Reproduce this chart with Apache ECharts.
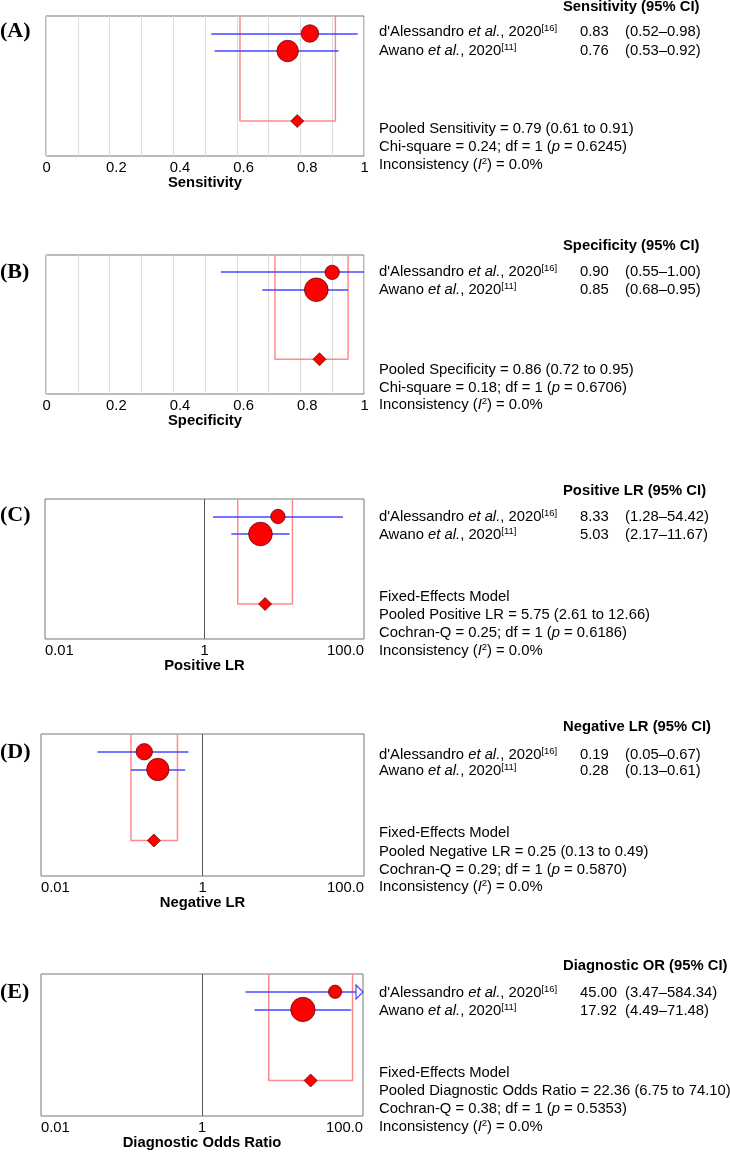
<!DOCTYPE html>
<html>
<head>
<meta charset="utf-8">
<script src="https://cdn.jsdelivr.net/npm/echarts@6/dist/echarts.min.js"></script>
<style>
  html, body { margin: 0; background: #fff; }
  #main { width: 730px; height: 1152px; }
</style>
</head>
<body>
<div id="main"></div>
<script>
// ---- data ----
const panelLetters = ['(A)', '(B)', '(C)', '(D)', '(E)'];
const axisNames = ['Sensitivity', 'Specificity', 'Positive LR', 'Negative LR', 'Diagnostic Odds Ratio'];
const headings = ['Sensitivity', 'Specificity', 'Positive LR', 'Negative LR', 'Diagnostic OR'];
const pooledNames = ['Sensitivity', 'Specificity', 'Positive LR', 'Negative LR', 'Diagnostic Odds Ratio'];
const isLog = [false, false, true, true, true];

const studyNames = ["d'Alessandro", 'Awano'];
const studyYears = ['2020', '2020'];
const studyRefs = ['[16]', '[11]'];

const estimates = [[0.83, 0.76], [0.90, 0.85], [8.33, 5.03], [0.19, 0.28], [45.00, 17.92]];
const lowerCI = [[0.52, 0.53], [0.55, 0.68], [1.28, 2.17], [0.05, 0.13], [3.47, 4.49]];
const upperCI = [[0.98, 0.92], [1.00, 0.95], [54.42, 11.67], [0.67, 0.61], [584.34, 71.48]];
const studyWeights = [[40, 60], [27, 73], [27, 73], [35, 65], [23, 77]]; // relative %, drives marker area

const pooledEst = [0.79, 0.86, 5.75, 0.25, 22.36];
const pooledLo = [0.61, 0.72, 2.61, 0.13, 6.75];
const pooledHi = [0.91, 0.95, 12.66, 0.49, 74.10];

const modelNote = [null, null, 'Fixed-Effects Model', 'Fixed-Effects Model', 'Fixed-Effects Model'];
const hetTest = ['Chi-square', 'Chi-square', 'Cochran-Q', 'Cochran-Q', 'Cochran-Q'];
const hetStat = ['0.24', '0.18', '0.25', '0.29', '0.38'];
const hetDf = ['1', '1', '1', '1', '1'];
const hetP = ['0.6245', '0.6706', '0.6186', '0.5870', '0.5353'];
const inconsistency = ['0.0%', '0.0%', '0.0%', '0.0%', '0.0%'];

const linearTickLabels = ['0', '0.2', '0.4', '0.6', '0.8', '1'];
const logTickLabels = { '-2': '0.01', '0': '1', '2': '100.0' };

// rows on the (hidden) y axis
const studyRows = [1, 2];
const pooledRow = 6;

// ---- layout ----
const layout = [
  { left: 46, top: 16,  width: 318, height: 140, head: 7,   rows: [32, 51],    stats: [129, 147, 165],        letter: 31 },
  { left: 46, top: 255, width: 318, height: 139, head: 246, rows: [272, 290],  stats: [370, 388, 405],        letter: 272 },
  { left: 45, top: 499, width: 319, height: 140, head: 491, rows: [517, 535],  stats: [597, 615, 633, 651],   letter: 515 },
  { left: 41, top: 734, width: 323, height: 142, head: 727, rows: [755, 771],  stats: [833, 852, 870, 887],   letter: 752 },
  { left: 41, top: 974, width: 322, height: 142, head: 966, rows: [993, 1011], stats: [1073, 1091, 1109, 1127], letter: 992 }
];

const FONT = "'Liberation Sans', Arial, sans-serif";
const FS = 14.8;
const BLUE = '#4646ff';
const RED = '#ff0000';
const BOX = '#ff8a8a';

const rich = {
  n: { fontFamily: FONT, fontSize: FS, lineHeight: 17, color: '#000' },
  i: { fontFamily: FONT, fontSize: FS, lineHeight: 17, fontStyle: 'italic', color: '#000' },
  s: { fontFamily: FONT, fontSize: 9.5, lineHeight: 9, verticalAlign: 'top', color: '#000' },
  b: { fontFamily: FONT, fontSize: FS, lineHeight: 17, fontWeight: 'bold', color: '#000' }
};

function txt(x, y, text) {
  return {
    type: 'text', x: x, y: y, silent: true,
    style: { text: text, rich: rich, fill: '#000', font: FS + 'px ' + FONT, verticalAlign: 'middle', align: 'left' }
  };
}

function ciRender(axisMax) {
  return function (params, api) {
    const lo = api.value(0), hi = api.value(1), row = api.value(2);
    const p0 = api.coord([lo, row]);
    const clipped = hi > axisMax;
    const p1 = api.coord([clipped ? axisMax : hi, row]);
    const y = Math.round(p0[1]);
    const style = { stroke: BLUE, lineWidth: 1.5 };
    const children = [];
    if (clipped) {
      const tip = p1[0];
      children.push({ type: 'line', shape: { x1: p0[0], y1: y, x2: tip - 7, y2: y }, style: style });
      children.push({ type: 'polygon', shape: { points: [[tip - 7, y - 7], [tip, y], [tip - 7, y + 7]] }, style: { fill: '#fff', stroke: BLUE, lineWidth: 1.2 } });
    } else {
      children.push({ type: 'line', shape: { x1: p0[0], y1: y, x2: p1[0], y2: y }, style: style });
    }
    return { type: 'group', children: children };
  };
}

const grids = [], xAxes = [], yAxes = [], series = [], graphics = [];

layout.forEach(function (L, i) {
  grids.push({
    left: L.left, top: L.top, width: L.width, height: L.height,
    show: true, borderColor: '#777', borderWidth: 1, containLabel: false, outerBoundsMode: 'none'
  });

  const axisCommon = {
    gridIndex: i,
    name: axisNames[i],
    nameLocation: 'middle',
    nameGap: 19,
    nameMoveOverlap: false,
    nameTextStyle: { fontFamily: FONT, fontSize: FS, fontWeight: 'bold', color: '#000' },
    axisLine: { show: false },
    axisTick: { show: false }
  };
  if (isLog[i]) {
    xAxes.push(Object.assign({}, axisCommon, {
      type: 'log', logBase: 10, min: 0.01, max: 100,
      splitLine: { show: false },
      axisLabel: {
        margin: 4, color: '#000', fontFamily: FONT, fontSize: FS,
        alignMinLabel: 'left', alignMaxLabel: 'right',
        formatter: function (v) {
          const e = Math.round(Math.log10(v));
          return logTickLabels[String(e)] || '';
        }
      }
    }));
  } else {
    xAxes.push(Object.assign({}, axisCommon, {
      type: 'value', min: 0, max: 1, interval: 0.1,
      splitLine: { show: true, lineStyle: { color: '#dcdcdc', width: 1 } },
      axisLabel: {
        margin: 4, color: '#000', fontFamily: FONT, fontSize: FS, align: 'left',
        padding: [0, 0, 0, -3.5],
        formatter: function (v) {
          const k = Math.round(v * 10);
          return k % 2 === 0 ? linearTickLabels[k / 2] : '';
        }
      }
    }));
  }
  yAxes.push({ gridIndex: i, type: 'value', min: 0, max: 8, inverse: true, show: false });

  // pooled confidence box
  const box = {
    type: 'line', xAxisIndex: i, yAxisIndex: i, silent: true, z: 2,
    symbol: 'none', animation: false,
    lineStyle: { color: BOX, width: 1.5 },
    data: [[pooledLo[i], 0], [pooledLo[i], pooledRow], [pooledHi[i], pooledRow], [pooledHi[i], 0]]
  };
  if (isLog[i]) {
    box.markLine = {
      silent: true, symbol: 'none', animation: false,
      label: { show: false },
      lineStyle: { color: '#555', width: 1, type: 'solid' },
      data: [{ xAxis: 1 }]
    };
  }
  series.push(box);

  // study CIs
  series.push({
    type: 'custom', xAxisIndex: i, yAxisIndex: i, silent: true, z: 3, clip: false,
    renderItem: ciRender(isLog[i] ? 100 : 1),
    encode: { x: [0, 1], y: 2 },
    data: studyRows.map(function (r, j) { return [lowerCI[i][j], upperCI[i][j], r]; })
  });

  // study estimates
  series.push({
    type: 'scatter', xAxisIndex: i, yAxisIndex: i, silent: true, z: 4,
    symbol: 'circle',
    symbolSize: function (d) { return 2.77 * Math.sqrt(d[2]); },
    itemStyle: { color: RED, borderColor: '#4a0000', borderWidth: 0.7, opacity: 1 },
    data: studyRows.map(function (r, j) { return [estimates[i][j], r, studyWeights[i][j]]; })
  });

  // pooled estimate
  series.push({
    type: 'scatter', xAxisIndex: i, yAxisIndex: i, silent: true, z: 4,
    symbol: 'diamond', symbolSize: [13, 13],
    itemStyle: { color: RED, borderColor: '#4a0000', borderWidth: 0.7, opacity: 1 },
    data: [[pooledEst[i], pooledRow]]
  });

  // texts
  graphics.push({
    type: 'text', x: 0, y: L.letter, silent: true,
    style: { text: panelLetters[i], font: "bold 22px 'Liberation Serif', 'Times New Roman', serif", fill: '#000', verticalAlign: 'middle' }
  });
  graphics.push(txt(563, L.head, '{b|' + headings[i] + ' (95% CI)}'));
  studyRows.forEach(function (r, j) {
    graphics.push(txt(379, L.rows[j], '{n|' + studyNames[j] + ' }{i|et al.}{n|, ' + studyYears[j] + '}{s|' + studyRefs[j] + '}'));
    graphics.push(txt(580, L.rows[j], '{n|' + estimates[i][j].toFixed(2) + '}'));
    graphics.push(txt(625, L.rows[j], '{n|(' + lowerCI[i][j].toFixed(2) + '–' + upperCI[i][j].toFixed(2) + ')}'));
  });
  const lines = [];
  if (modelNote[i]) lines.push('{n|' + modelNote[i] + '}');
  lines.push('{n|Pooled ' + pooledNames[i] + ' = ' + pooledEst[i].toFixed(2) + ' (' + pooledLo[i].toFixed(2) + ' to ' + pooledHi[i].toFixed(2) + ')}');
  lines.push('{n|' + hetTest[i] + ' = ' + hetStat[i] + '; df = ' + hetDf[i] + ' (}{i|p}{n| = ' + hetP[i] + ')}');
  lines.push('{n|Inconsistency (}{i|I}{s|2}{n|) = ' + inconsistency[i] + '}');
  lines.forEach(function (t, k) { graphics.push(txt(379, L.stats[k], t)); });
});

const myChart = echarts.init(document.getElementById('main'), null, { renderer: 'canvas' });
const option = {
  backgroundColor: '#fff',
  animation: false,
  grid: grids,
  xAxis: xAxes,
  yAxis: yAxes,
  series: series,
  graphic: graphics
};
option && myChart.setOption(option);
</script>
</body>
</html>
